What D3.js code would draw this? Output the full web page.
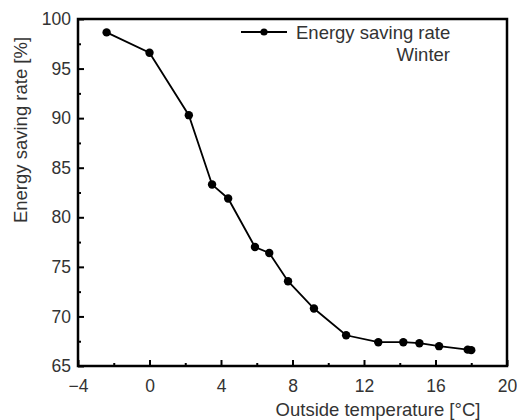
<!DOCTYPE html>
<html lang="en">
<head>
    <meta charset="UTF-8">
    <title>Energy saving rate</title>
    <script src="https://d3js.org/d3.v7.min.js"></script>
    <style>
        body { margin: 0; background: #fff; }
        text { font-family: "Liberation Sans", Arial, sans-serif; fill: #333; }
    </style>
</head>
<body>
    <div id="chart"></div>

    <script>
        // Winter data
        const temperature = [-2.4, 0.0, 2.2, 3.5, 4.4, 5.9, 6.7, 7.75, 9.2, 11.0, 12.8, 14.2, 15.1, 16.2, 17.8, 18.0];
        const savingRate  = [98.65, 96.6, 90.3, 83.3, 81.9, 77.0, 76.4, 73.55, 70.8, 68.1, 67.4, 67.4, 67.3, 67.0, 66.65, 66.6];
        const xTicks = [-4, 0, 4, 8, 12, 16, 20];
        const yTicks = [65, 70, 75, 80, 85, 90, 95, 100];

        const data = temperature.map((t, i) => ({ t: t, v: savingRate[i] }));

        const W = 517, H = 420;
        const margin = { top: 19, right: 10, bottom: 54, left: 78 };
        const width = W - margin.left - margin.right;
        const height = H - margin.top - margin.bottom;

        const svg = d3.select("#chart")
            .append("svg")
            .attr("width", W)
            .attr("height", H);

        const g = svg.append("g")
            .attr("transform", `translate(${margin.left},${margin.top})`);

        const x = d3.scaleLinear().domain([-4, 20]).range([0, width]);
        const y = d3.scaleLinear().domain([65, 100]).range([height, 0]);

        // minor ticks (inward)
        g.append("g")
            .attr("transform", `translate(0,${height})`)
            .call(d3.axisBottom(x).tickValues(d3.range(-2, 20, 4)).tickSize(-3).tickFormat(""))
            .call(a => a.select(".domain").remove())
            .selectAll("line").attr("stroke", "#000").attr("stroke-width", 2);
        g.append("g")
            .call(d3.axisLeft(y).tickValues(d3.range(67.5, 100, 5)).tickSize(-3).tickFormat(""))
            .call(a => a.select(".domain").remove())
            .selectAll("line").attr("stroke", "#000").attr("stroke-width", 2);

        // major ticks
        const xAxis = g.append("g")
            .attr("transform", `translate(0,${height})`)
            .call(d3.axisBottom(x).tickValues(xTicks).tickSize(-6).tickPadding(14)
                .tickFormat(d => d < 0 ? "\u2212" + Math.abs(d) : d));
        xAxis.select(".domain").remove();
        xAxis.selectAll("line").attr("stroke", "#000").attr("stroke-width", 2);
        xAxis.selectAll("text").attr("font-size", 17.5).attr("font-family", null).style("fill", "#333");

        const yAxis = g.append("g")
            .call(d3.axisLeft(y).tickValues(yTicks).tickSize(-6).tickPadding(7));
        yAxis.select(".domain").remove();
        yAxis.selectAll("line").attr("stroke", "#000").attr("stroke-width", 2);
        yAxis.selectAll("text").attr("font-size", 17.5).attr("font-family", null).style("fill", "#333");

        // frame
        g.append("rect")
            .attr("width", width)
            .attr("height", height)
            .attr("fill", "none")
            .attr("stroke", "#000")
            .attr("stroke-width", 2.5);

        // data line
        const line = d3.line()
            .x(d => x(d.t))
            .y(d => y(d.v));

        g.append("path")
            .datum(data)
            .attr("fill", "none")
            .attr("stroke", "#000")
            .attr("stroke-width", 1.8)
            .attr("d", line);

        g.selectAll("circle.pt")
            .data(data)
            .enter()
            .append("circle")
            .attr("class", "pt")
            .attr("cx", d => x(d.t))
            .attr("cy", d => y(d.v))
            .attr("r", 4.2)
            .attr("fill", "#000");

        // legend
        const leg = svg.append("g");
        leg.append("line")
            .attr("x1", 241).attr("x2", 287)
            .attr("y1", 32).attr("y2", 32)
            .attr("stroke", "#000").attr("stroke-width", 1.8);
        leg.append("circle")
            .attr("cx", 264).attr("cy", 32).attr("r", 3.6).attr("fill", "#000");
        leg.append("text")
            .attr("x", 296).attr("y", 39)
            .attr("font-size", 18.5)
            .text("Energy saving rate");
        leg.append("text")
            .attr("x", 450).attr("y", 61)
            .attr("text-anchor", "end")
            .attr("font-size", 18.5)
            .text("Winter");

        // axis titles
        svg.append("text")
            .attr("x", 378).attr("y", 416)
            .attr("text-anchor", "middle")
            .attr("font-size", 18.5)
            .text("Outside temperature [°C]");

        svg.append("text")
            .attr("transform", "translate(27,130) rotate(-90)")
            .attr("text-anchor", "middle")
            .attr("font-size", 18.5)
            .text("Energy saving rate [%]");
    </script>
</body>
</html>
